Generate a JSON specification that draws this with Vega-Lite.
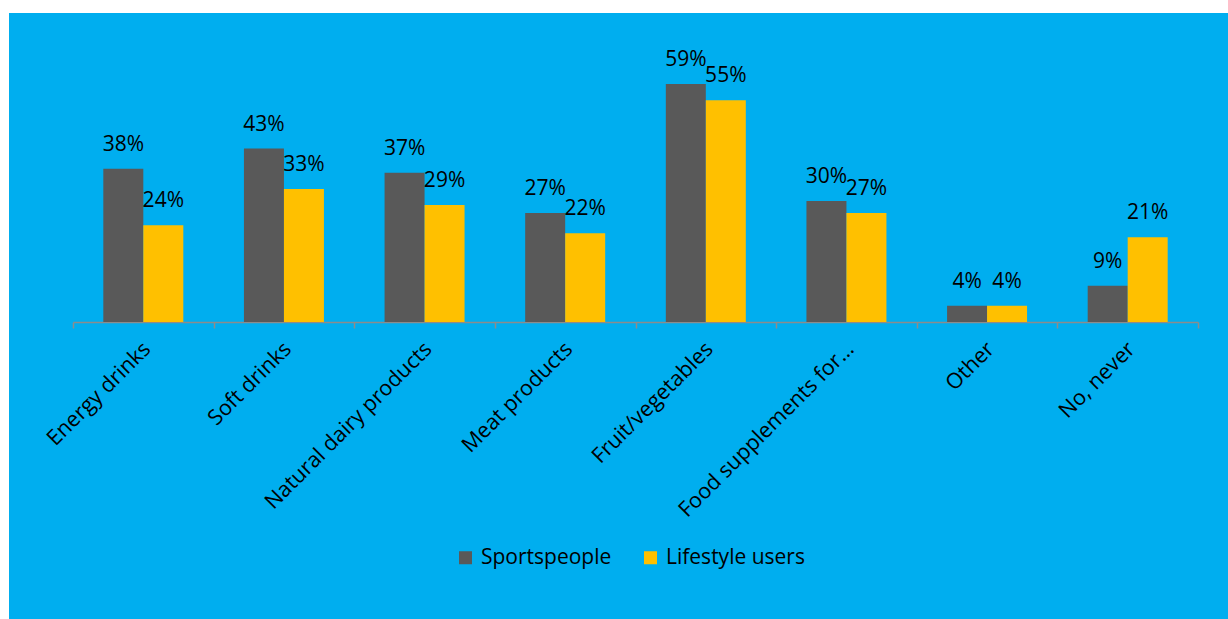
{
  "$schema": "https://vega.github.io/schema/vega-lite/v6.json",
  "width": 1219,
  "height": 606,
  "padding": {"left": 9, "top": 13, "right": 0, "bottom": 0},
  "autosize": {"type": "none"},
  "background": "white",
  "config": {
    "view": {"fill": "#00AEEF", "stroke": null},
    "font": "Open Sans"
  },
  "data": {
    "values": [
      {"category": "Energy drinks", "group": "Sportspeople", "value": 0.38},
      {"category": "Energy drinks", "group": "Lifestyle users", "value": 0.24},
      {"category": "Soft drinks", "group": "Sportspeople", "value": 0.43},
      {"category": "Soft drinks", "group": "Lifestyle users", "value": 0.33},
      {"category": "Natural dairy products", "group": "Sportspeople", "value": 0.37},
      {"category": "Natural dairy products", "group": "Lifestyle users", "value": 0.29},
      {"category": "Meat products", "group": "Sportspeople", "value": 0.27},
      {"category": "Meat products", "group": "Lifestyle users", "value": 0.22},
      {"category": "Fruit/vegetables", "group": "Sportspeople", "value": 0.59},
      {"category": "Fruit/vegetables", "group": "Lifestyle users", "value": 0.55},
      {"category": "Food supplements for…", "group": "Sportspeople", "value": 0.30},
      {"category": "Food supplements for…", "group": "Lifestyle users", "value": 0.27},
      {"category": "Other", "group": "Sportspeople", "value": 0.04},
      {"category": "Other", "group": "Lifestyle users", "value": 0.04},
      {"category": "No, never", "group": "Sportspeople", "value": 0.09},
      {"category": "No, never", "group": "Lifestyle users", "value": 0.21}
    ]
  },
  "encoding": {
    "x": {
      "field": "category",
      "type": "nominal",
      "sort": null,
      "scale": {"range": [64, 1189], "paddingInner": 0, "paddingOuter": 0},
      "axis": {
        "title": null,
        "orient": "bottom",
        "offset": -297,
        "domainColor": "#8C8C8C",
        "domainWidth": 1.5,
        "tickColor": "#8C8C8C",
        "tickWidth": 1.5,
        "tickSize": 6,
        "tickBand": "extent",
        "labelAngle": -45,
        "labelFont": "Open Sans",
        "labelFontSize": 21.5,
        "labelColor": "black",
        "labelPadding": 10,
        "labelOffset": -4,
        "labelLimit": 400,
        "grid": false
      }
    },
    "xOffset": {
      "field": "group",
      "type": "nominal",
      "sort": ["Sportspeople", "Lifestyle users"],
      "scale": {"paddingInner": 0, "paddingOuter": 0.758}
    },
    "y": {
      "field": "value",
      "type": "quantitative",
      "scale": {"domain": [0, 0.6], "range": [309, 67], "nice": false, "zero": true},
      "axis": null
    }
  },
  "layer": [
    {
      "mark": {"type": "bar"},
      "encoding": {
        "color": {
          "field": "group",
          "type": "nominal",
          "sort": ["Sportspeople", "Lifestyle users"],
          "scale": {"domain": ["Sportspeople", "Lifestyle users"], "range": ["#595959", "#FFC000"]},
          "legend": {
            "title": null,
            "orient": "none",
            "legendX": 446,
            "legendY": 534,
            "direction": "horizontal",
            "symbolType": "square",
            "symbolSize": 169,
            "symbolStrokeWidth": 0,
            "symbolOpacity": 1,
            "labelFont": "Open Sans",
            "labelFontSize": 21,
            "labelColor": "black",
            "labelOffset": 5,
            "columnPadding": 28,
            "padding": 0
          }
        }
      }
    },
    {
      "mark": {"type": "text", "baseline": "alphabetic", "dy": -18, "fontSize": 21, "font": "Open Sans", "color": "black"},
      "encoding": {
        "text": {"field": "value", "type": "quantitative", "format": ".0%"}
      }
    }
  ]
}
